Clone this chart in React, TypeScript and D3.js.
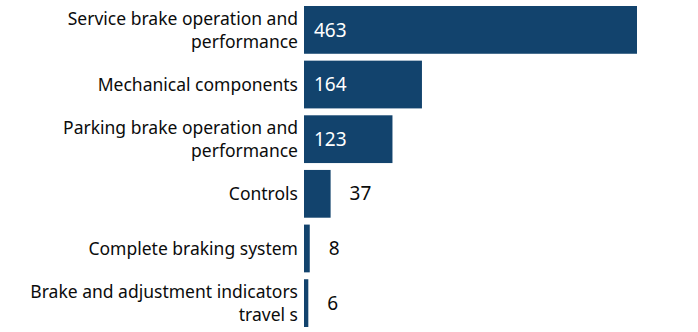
import React from "react";
import * as d3 from "d3";

const categories: string[][] = [
  ["Service brake operation and", "performance"],
  ["Mechanical components"],
  ["Parking brake operation and", "performance"],
  ["Controls"],
  ["Complete braking system"],
  ["Brake and adjustment indicators", "travel s"],
];
const values: number[] = [463, 164, 123, 37, 8, 6];

const W = 698;
const H = 332;
const FONT = "'Noto Sans', sans-serif";

export default function App() {
  const x = d3.scaleLinear().domain([0, 463]).range([304, 637]);
  const y = d3
    .scaleBand<number>()
    .domain(d3.range(values.length))
    .range([6, 327])
    .paddingInner(0.126)
    .paddingOuter(0);
  const lineH = 23;
  return (
    <svg
      width={W}
      height={H}
      style={{ position: "absolute", left: 0, top: 0 }}
      fontFamily={FONT}
    >
      {values.map((v, i) => {
        const y0 = y(i)!;
        const bw = y.bandwidth();
        const cy = y0 + bw / 2;
        const lines = categories[i];
        const inside = x(v) - x(0) > 60;
        return (
          <g key={i}>
            <rect x={x(0)} y={y0} width={x(v) - x(0)} height={bw} fill="#12436D" />
            {lines.map((t, j) => (
              <text
                key={j}
                x={298}
                y={cy + (j - (lines.length - 1) / 2) * lineH}
                dy="0.35em"
                textAnchor="end"
                fontSize={17.5}
                fill="#0b0c0c"
              >
                {t}
              </text>
            ))}
            <text
              x={inside ? x(0) + 10 : x(v) + 19}
              y={cy}
              dy="0.35em"
              fontSize={19}
              fill={inside ? "#ffffff" : "#0b0c0c"}
            >
              {v}
            </text>
          </g>
        );
      })}
    </svg>
  );
}
